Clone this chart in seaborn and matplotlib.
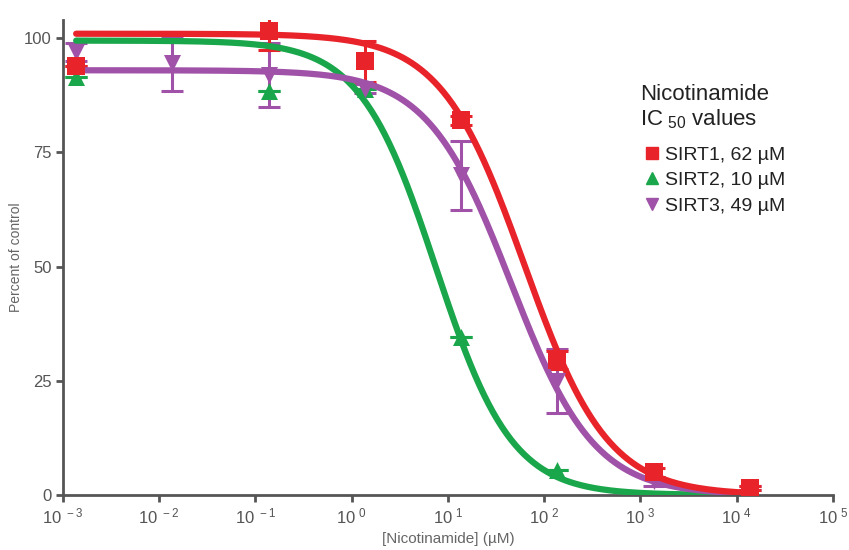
import numpy as np
import pandas as pd
import matplotlib
matplotlib.use('Agg')
import matplotlib.pyplot as plt
import seaborn as sns
from matplotlib.lines import Line2D

conc = [0.00137, 0.0137, 0.137, 1.37, 13.7, 137, 1370, 13700]
sirt1 = [94, np.nan, 101.5, 95, 82, 29.5, 5, 1.5]
sirt1_err = [0, np.nan, 4, 4.5, 1, 2, 1, 0.5]
sirt2 = [91.5, np.nan, 88.5, 89, 34.5, 5.5, np.nan, np.nan]
sirt2_err = [0, np.nan, 0, 0, 0, 0, np.nan, np.nan]
sirt3 = [97, 94.5, 92, 89, 70, 25, 3, 1.5]
sirt3_err = [2, 6, 7, 1, 7.5, 7, 1, 0.5]

# fitted curve parameters
names = ['SIRT1', 'SIRT2', 'SIRT3']
ic50_labels = ['62 µM', '10 µM', '49 µM']
top = [101, 99.5, 93]
ic50_fit = [62, 7.5, 45]
hill = [1.0, 1.1, 1.0]

colors = ['#e8232a', '#1aa64a', '#a052a8']
markers = ['s', '^', 'v']

sns.set_style('white')
plt.rcParams['font.family'] = ['Liberation Sans', 'DejaVu Sans']
plt.rcParams['mathtext.fontset'] = 'custom'
plt.rcParams['mathtext.rm'] = 'Liberation Sans'
plt.rcParams['mathtext.default'] = 'regular'

pts = pd.DataFrame({
    'conc': conc * 3,
    'pct': sirt1 + sirt2 + sirt3,
    'err': sirt1_err + sirt2_err + sirt3_err,
    'enzyme': [n for n in names for _ in conc],
})

xs = np.logspace(np.log10(conc[0]), np.log10(conc[-1]), 300)
curves = pd.concat([
    pd.DataFrame({'conc': xs, 'pct': t / (1 + (xs / c) ** h), 'enzyme': n})
    for n, t, c, h in zip(names, top, ic50_fit, hill)
])

fig = plt.figure(figsize=(8.49, 5.5), dpi=100)
ax = fig.add_axes([0.0742, 0.1, 0.9069, 0.8636])

order = ['SIRT2', 'SIRT3', 'SIRT1']
for n in order:
    i = names.index(n)
    sub = pts[pts.enzyme == n].dropna()
    ax.errorbar(sub.conc, sub.pct, yerr=sub.err, fmt='none', ecolor=colors[i],
                elinewidth=2.2, capsize=8, capthick=2.2, zorder=2)
    sns.lineplot(data=curves[curves.enzyme == n], x='conc', y='pct', color=colors[i],
                 linewidth=4.5, ax=ax, zorder=3)
    sns.scatterplot(data=sub, x='conc', y='pct', color=colors[i], marker=markers[i],
                    s=150, edgecolor=colors[i], linewidth=0, ax=ax, zorder=4)

ax.set_xscale('log')
ax.set_xlim(1e-3, 1e5)
ax.set_ylim(0, 104)
ax.set_yticks([0, 25, 50, 75, 100])
ax.set_xticks([10.0 ** k for k in range(-3, 6)])
ax.set_xticklabels([r'$10^{\ %d}$' % k for k in range(-3, 6)])
ax.xaxis.set_minor_locator(matplotlib.ticker.NullLocator())

for s in ['top', 'right']:
    ax.spines[s].set_visible(False)
for s in ['left', 'bottom']:
    ax.spines[s].set_color('#555555')
    ax.spines[s].set_linewidth(2)
ax.tick_params(axis='both', direction='out', length=5, width=2, color='#555555',
               labelcolor='#555555', labelsize=12, bottom=True, left=True, pad=3)
ax.set_xlabel('[Nicotinamide] (µM)', fontsize=11, color='#666666', labelpad=4)
ax.set_ylabel('Percent of control', fontsize=10, color='#666666', labelpad=1)

ax.text(0.749, 0.865, 'Nicotinamide\nIC$_{\\ 50}$ values', transform=ax.transAxes,
        fontsize=16, va='top', ha='left', color='#222222', linespacing=1.15)

handles = [Line2D([], [], color=c, marker=m, linestyle='none', markersize=9)
           for c, m in zip(colors, markers)]
labels = [f'{n}, {v}' for n, v in zip(names, ic50_labels)]
leg = ax.legend(handles, labels, frameon=False, loc='upper left',
                bbox_to_anchor=(0.752, 0.735), fontsize=14, handletextpad=0.2,
                labelspacing=0.42, handlelength=1.0, borderaxespad=0, borderpad=0)
for t in leg.get_texts():
    t.set_color('#222222')

fig.savefig('out.png', dpi=100)
